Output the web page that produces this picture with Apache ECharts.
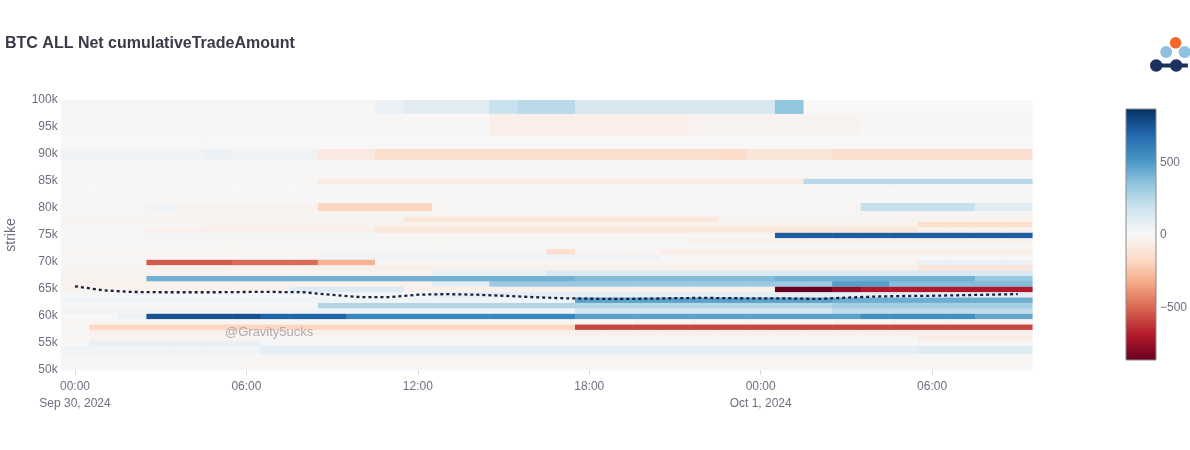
<!DOCTYPE html>
<html><head><meta charset="utf-8">
<script src="https://cdn.jsdelivr.net/npm/echarts@6/dist/echarts.min.js"></script>
<style>html,body{margin:0;padding:0;background:#fff}#c{width:1190px;height:450px}</style>
</head><body><div id="c"></div><script>
// ---- data ----
const hours = [0,1,2,3,4,5,6,7,8,9,10,11,12,13,14,15,16,17,18,19,20,21,22,23,24,25,26,27,28,29,30,31,32,33];
const tickHours = [0,6,12,18,24,30];
const tickLabels = ['00:00\nSep 30, 2024','06:00','12:00','18:00','00:00\nOct 1, 2024','06:00'];
const strikes = [50000,52000,54000,55000,56000,57000,58000,59000,60000,61000,62000,63000,64000,65000,66000,67000,68000,69000,70000,71000,72000,73000,74000,75000,76000,77000,78000,79000,80000,82000,84000,85000,86000,88000,90000,92000,95000,100000];
const btcPrice = [65500,64750,64450,64400,64400,64400,64450,64450,64400,63900,63500,63500,63950,64050,63950,63750,63500,63300,63200,63150,63200,63300,63350,63300,63250,63250,63150,63400,63600,63700,63750,63850,63950,64050];
// net cumulative trade amount per strike, as [fromHour, toHour, value] blocks
const k50  = [[0,5,0],[6,33,-15]];
const k52  = [[0,33,-8]];
const k54  = [[0,6,40],[7,29,90],[30,33,120]];
const k55  = [[0,0,0],[1,6,70],[7,33,10]];
const k56  = [[0,29,-15],[30,33,-60]];
const k57  = [[0,0,0],[1,33,-40]];
const k58  = [[0,0,0],[1,17,-185],[18,33,-580]];
const k59  = [[0,33,-15]];
const k60  = [[0,1,5],[2,2,60],[3,6,760],[7,9,700],[10,17,570],[18,27,470],[28,31,540],[32,33,450]];
const k61  = [[0,17,30],[18,26,160],[27,33,220]];
const k62  = [[0,8,10],[9,26,260],[27,33,300]];
const k63  = [[0,17,30],[18,26,470],[27,33,430]];
const k64  = [[0,12,20],[13,33,90]];
const k65  = [[0,7,-25],[8,11,120],[12,24,-40],[25,26,-860],[27,27,-770],[28,33,-690]];
const k66  = [[0,12,-35],[13,14,100],[15,26,320],[27,28,480],[29,33,380]];
const k67  = [[0,2,-30],[3,17,420],[18,24,380],[25,31,420],[32,33,330]];
const k68  = [[0,12,-20],[13,16,60],[17,33,130]];
const k69  = [[0,2,-10],[3,29,-40],[30,33,-110]];
const k70  = [[0,2,-10],[3,5,-530],[6,8,-490],[9,10,-300],[11,29,-15],[30,33,60]];
const k71  = [[0,8,10],[9,20,40],[21,33,10]];
const k72  = [[0,16,-15],[17,17,-140],[18,20,-20],[21,33,-55]];
const k73  = [[0,33,-10]];
const k74  = [[0,21,-10],[22,33,-35]];
const k75  = [[0,2,0],[3,10,25],[11,24,-10],[25,33,720]];
const k76  = [[0,2,-10],[3,10,-40],[11,29,-100],[30,33,-40]];
const k77  = [[0,4,-10],[5,29,-35],[30,33,-140]];
const k78  = [[0,11,-20],[12,22,-100],[23,33,-30]];
const k79  = [[0,33,-8]];
const k80  = [[0,2,0],[3,3,30],[4,8,-20],[9,12,-190],[13,27,-10],[28,31,210],[32,33,100]];
const k82  = [[0,33,-5]];
const k84  = [[0,33,5]];
const k85  = [[0,8,-5],[9,25,-70],[26,33,240]];
const k86  = [[0,33,-5]];
const k88  = [[0,33,0]];
const k90  = [[0,4,40],[5,5,60],[6,8,40],[9,10,-80],[11,22,-150],[23,23,-160],[24,26,-110],[27,33,-140]];
const k92  = [[0,33,2]];
const k95  = [[0,14,-5],[15,21,-50],[22,27,-20],[28,33,-5]];
const k100 = [[0,10,10],[11,11,60],[12,14,100],[15,15,200],[16,17,240],[18,24,150],[25,25,350],[26,33,5]];
const rows = [k50,k52,k54,k55,k56,k57,k58,k59,k60,k61,k62,k63,k64,k65,k66,k67,k68,k69,k70,k71,k72,k73,k74,k75,k76,k77,k78,k79,k80,k82,k84,k85,k86,k88,k90,k92,k95,k100];
const zMin = -862, zMax = 869;
const rdbu = ['rgb(103,0,31)','rgb(178,24,43)','rgb(214,96,77)','rgb(244,165,130)','rgb(253,219,199)','rgb(247,247,247)','rgb(209,229,240)','rgb(146,197,222)','rgb(67,147,195)','rgb(33,102,172)','rgb(5,48,97)'];

// ---- build cells ----
const yMin = 50000, yMax = 100000;
const cells = [];
strikes.forEach((s, i) => {
  const lo = i === 0 ? s - (strikes[1] - s) / 2 : (strikes[i-1] + s) / 2;
  const hi = i === strikes.length - 1 ? s + (s - strikes[i-1]) / 2 : (s + strikes[i+1]) / 2;
  const yl = Math.max(lo, yMin), yh = Math.min(hi, yMax);
  rows[i].forEach(seg => {
    hours.forEach(h => {
      if (h >= seg[0] && h <= seg[1]) cells.push([h, yl, yh, seg[2]]);
    });
  });
});

const axisColor = '#6e6e80';
const font = '"Liberation Sans", Arial, sans-serif';
const chart = echarts.init(document.getElementById('c'), null, {renderer: 'canvas'});
chart.setOption({
  animation: false,
  backgroundColor: '#ffffff',
  textStyle: {fontFamily: font},
  title: {text: 'BTC ALL Net cumulativeTradeAmount', left: 5, top: 36, padding: 0,
    textStyle: {fontSize: 16, fontWeight: 'bold', color: '#3a3a48', fontFamily: font}},
  grid: [
    {left: 60.7, top: 100, width: 971.4, height: 270, containLabel: false, outerBoundsMode: 'none'},
    {left: 1126, top: 109, width: 30, height: 251, containLabel: false, outerBoundsMode: 'none'}
  ],
  xAxis: [
    {type: 'value', gridIndex: 0, min: -0.5, max: 33.5,
      axisLine: {show: false}, splitLine: {show: false},
      axisTick: {show: true, customValues: tickHours, length: 5, lineStyle: {color: '#d8d8d8'}},
      axisLabel: {customValues: tickHours, color: axisColor, fontSize: 12, lineHeight: 17, margin: 8,
        formatter: v => tickLabels[tickHours.indexOf(Math.round(v))] || ''}},
    {type: 'value', gridIndex: 1, min: 0, max: 1, show: false}
  ],
  yAxis: [
    {type: 'value', gridIndex: 0, min: yMin, max: yMax, interval: 5000,
      axisLine: {show: false}, axisTick: {show: false}, splitLine: {show: false},
      axisLabel: {color: axisColor, fontSize: 12, margin: 3, formatter: v => (v / 1000) + 'k'},
      name: 'strike', nameLocation: 'middle', nameGap: 43,
      nameTextStyle: {color: axisColor, fontSize: 14}},
    {type: 'value', gridIndex: 1, min: zMin, max: zMax, position: 'right',
      axisLine: {show: false}, axisTick: {show: false}, splitLine: {show: false},
      axisLabel: {customValues: [-500, 0, 500], color: axisColor, fontSize: 12, margin: 4,
        formatter: v => String(v).replace('-', '\u2212')}}
  ],
  visualMap: {type: 'continuous', show: false, min: zMin, max: zMax, dimension: 3, seriesIndex: 0,
    inRange: {color: rdbu}},
  series: [
    {type: 'custom', xAxisIndex: 0, yAxisIndex: 0, data: cells,
      dimensions: ['hour', 'lo', 'hi', 'value'],
      encode: {x: 0, y: [1, 2]},
      renderItem: function (params, api) {
        const h = api.value(0);
        const p0 = api.coord([h - 0.5, api.value(2)]);
        const p1 = api.coord([h + 0.5, api.value(1)]);
        return {type: 'rect',
          shape: {x: p0[0], y: p0[1], width: p1[0] - p0[0] + 0.5, height: p1[1] - p0[1] + 0.4},
          style: {fill: api.visual('color')}};
      }},
    {type: 'line', xAxisIndex: 0, yAxisIndex: 0, z: 5,
      data: hours.map((h, i) => [h, btcPrice[i]]),
      symbol: 'none', lineStyle: {color: '#18223f', width: 2.3, type: [3, 3]}},
    {type: 'custom', xAxisIndex: 1, yAxisIndex: 1, data: [[0, zMin, zMax]],
      renderItem: function (params, api) {
        const a = api.coord([0, api.value(2)]);
        const b = api.coord([1, api.value(1)]);
        const stops = rdbu.slice().reverse().map((c, i) => ({offset: i / (rdbu.length - 1), color: c}));
        return {type: 'rect', shape: {x: a[0], y: a[1], width: b[0] - a[0], height: b[1] - a[1]},
          style: {fill: new echarts.graphic.LinearGradient(0, 0, 0, 1, stops), stroke: '#8a8a8a', lineWidth: 1}};
      }}
  ],
  graphic: [
    {type: 'text', left: 225, top: 326, z: 10,
      style: {text: '@Gravity5ucks', fill: 'rgba(150,150,160,0.75)', fontSize: 13, fontFamily: font}},
    {type: 'group', left: 1150, top: 37, children: [
      {type: 'line', shape: {x1: 8, y1: 29.7, x2: 40, y2: 29.7}, style: {stroke: '#1c3160', lineWidth: 4}},
      {type: 'circle', shape: {cx: 18.3, cy: 16.3, r: 6}, style: {fill: '#8fc1de'}},
      {type: 'circle', shape: {cx: 36.7, cy: 16.3, r: 6}, style: {fill: '#8fc1de'}},
      {type: 'circle', shape: {cx: 8.3, cy: 29.7, r: 6.2}, style: {fill: '#1c3160'}},
      {type: 'circle', shape: {cx: 28.3, cy: 29.7, r: 6.2}, style: {fill: '#1c3160'}},
      {type: 'circle', shape: {cx: 27.7, cy: 7, r: 5.8}, style: {fill: '#f26a2a'}}
    ]}
  ]
});
</script></body></html>
